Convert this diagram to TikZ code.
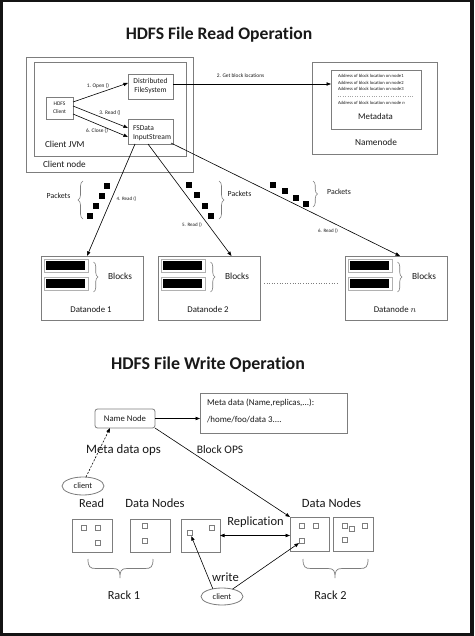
\documentclass[tikz,border=0pt]{standalone}
\usepackage{fontspec}
\setmainfont{Carlito}[Ligatures={NoCommon}]
\usetikzlibrary{arrows.meta,decorations.pathreplacing,shapes.geometric,calc}
\definecolor{boxgray}{RGB}{125,125,125}
\definecolor{txt}{RGB}{25,25,25}
\definecolor{frame}{RGB}{20,20,20}
\newcommand{\fsz}[1]{\fontsize{#1}{#1}\selectfont}
\begin{document}
\begin{tikzpicture}[x=1pt,y=-1pt,
  box/.style={draw=boxgray, line width=0.8pt, inner sep=0pt, outer sep=0pt, text=txt},
  lbl/.style={inner sep=0pt, outer sep=0pt, text=txt},
  conn/.style={draw=black, line width=0.6pt},
  arr/.style={conn, -{Triangle[length=4.5pt,width=3.4pt]}},
  pkt/.style={fill=black, minimum size=6pt, inner sep=0pt},
  sq/.style={draw=boxgray, line width=0.6pt, minimum size=5.5pt, inner sep=0pt},
  brc/.style={decorate, decoration={brace, amplitude=#1}, draw=boxgray, line width=0.6pt},
  ]
\useasboundingbox (0,0) rectangle (474,636);
\fill[frame] (0,0) rectangle (474,636);
\fill[white] (3,2) rectangle (470,633);

% ---------------- READ ----------------
\node[lbl, font=\bfseries\fsz{17.6}] (t1) at (219,35) {HDFS File Read Operation};

\node[box, minimum width=167pt, minimum height=115pt] (cnode) at (109.5,114.5) {};
\node[box, minimum width=152pt, minimum height=94pt] (jvm) at (110,109) {};
\node[lbl, anchor=west, font=\fsz{9.2}] (jvmlbl) at (45,144) {Client JVM};
\node[lbl, anchor=west, font=\fsz{9.2}] (cnlbl) at (43,164) {Client node};
\node[box, minimum width=27pt, minimum height=22pt, align=center, font=\fontsize{5.5}{8}\selectfont] (hc) at (59.5,108) {HDFS\\Client};
\node[box, minimum width=45pt, minimum height=25pt, align=center, font=\fontsize{7.5}{9}\selectfont] (dfs) at (150.5,86.5) {Distributed\\FileSystem};
\node[box, minimum width=45pt, minimum height=25pt] (fsd) at (150.5,131.5) {};
\node[lbl, anchor=west, align=left, font=\fontsize{7.5}{9}\selectfont] (fsdlbl) at (133,133) {FSData\\InputStream};

\node[box, minimum width=125pt, minimum height=92pt] (nnode) at (374.5,108) {};
\node[box, minimum width=90pt, minimum height=59pt] (meta) at (376,99.5) {};
\node[lbl, anchor=west, font=\fsz{4.6}] (a1) at (338,76) {Address of block location on node1};
\node[lbl, anchor=west, font=\fsz{4.6}] (a2) at (338,82.5) {Address of block location on node2};
\node[lbl, anchor=west, font=\fsz{4.6}] (a3) at (338,89) {Address of block location on node3};
\draw[boxgray!70, line width=0.4pt, dotted] (338,96.5) -- (414,96.5);
\node[lbl, anchor=west, font=\fsz{4.6}] (an) at (338,102.5) {Address of block location on node \textit{n}};
\node[lbl, font=\fsz{8.8}] (metalbl) at (375.5,116) {Metadata};
\node[lbl, font=\fsz{9.3}] (nnlbl) at (376,142) {Namenode};

% client arrows
\draw[arr] ([yshift=6pt]hc.east) -- ([yshift=3.5pt]dfs.west);
\draw[arr] ([yshift=2pt]hc.east) -- ([yshift=3.5pt]fsd.west);
\draw[arr] ([yshift=-6pt]hc.east) -- ([yshift=-5.5pt]fsd.west);
\node[lbl, font=\fsz{5.4}] (l1) at (98,85.5) {1. Open ()};
\node[lbl, font=\fsz{5.4}] (l3) at (110,113) {3. Read ()};
\node[lbl, font=\fsz{5.4}] (l6) at (97,131) {6. Close ()};
\draw[arr] ([yshift=2.5pt]dfs.east) -- ([yshift=2.5pt]dfs.east -| meta.west);
\node[lbl, font=\fsz{5.4}] (l2) at (240.5,76) {2. Get block locations};

% datanodes
\foreach \nm/\lx/\lab in {dn1/41/Datanode 1, dn2/158/Datanode 2, dnn/345/Datanode $n$}{
  \node[box, minimum width=102pt, minimum height=64pt] (\nm) at (\lx+51,288) {};
  \foreach \by in {259.5,277.5}{
    \draw[boxgray!60, line width=0.6pt] (\lx+3.5,\by) rectangle (\lx+47,\by+12.5);
    \fill[black] (\lx+5,\by+1.5) rectangle (\lx+44,\by+10.5);
  }
  \draw[brc=4.5] (\lx+52.5,262) -- (\lx+52.5,292);
  \node[lbl, font=\fsz{9.3}] (\nm blk) at (\lx+79,276) {Blocks};
  \node[lbl, font=\fsz{8.8}] (\nm lbl) at (\lx+50,309) {\lab};
}
\draw[boxgray, line width=0.6pt, dotted] ([xshift=4pt,yshift=5pt]dn2.east) -- ([xshift=-8pt,yshift=5pt]dnn.west);

% read arrows
\draw[arr] ([xshift=-15.5pt]fsd.south) -- ([xshift=-5pt]dn1.north);
\draw[arr] ([xshift=-2.5pt]fsd.south) -- ([xshift=22.5pt]dn2.north);
\draw[arr] ([xshift=-2pt,yshift=1pt]fsd.south east) -- ([xshift=4pt]dnn.north);
\node[lbl, font=\fsz{5}] (r4) at (126.5,199) {4. Read ()};
\node[lbl, font=\fsz{5}] (r5) at (192,225) {5. Read ()};
\node[lbl, font=\fsz{5}] (r6) at (328,231) {6. Read ()};

% packets
\node[pkt] (p11) at (107,186) {};
\node[pkt] (p12) at (102,196) {};
\node[pkt] (p13) at (96,206) {};
\node[pkt] (p14) at (90,216) {};
\draw[brc=5] (83,219) -- (83,181);
\node[lbl, font=\fsz{7.8}] (pk1) at (58.5,196) {Packets};

\node[pkt] (p21) at (189,185) {};
\node[pkt] (p22) at (197,195.5) {};
\node[pkt] (p23) at (205,206) {};
\node[pkt] (p24) at (211,216) {};
\draw[brc=5] (219,181) -- (219,219);
\node[lbl, font=\fsz{7.8}] (pk2) at (239.5,194) {Packets};

\node[pkt] (p31) at (273,185) {};
\node[pkt] (p32) at (285,191.5) {};
\node[pkt] (p33) at (296,198) {};
\node[pkt] (p34) at (306,204) {};
\draw[brc=4.5] (313,181) -- (313,207);
\node[lbl, font=\fsz{7.8}] (pk3) at (339,192) {Packets};

% ---------------- WRITE ----------------
\node[lbl, font=\bfseries\fsz{17.9}] (t2) at (208,365) {HDFS File Write Operation};

\node[box, rounded corners=2.5pt, minimum width=60pt, minimum height=19pt, font=\fsz{8.7}] (nn) at (125,418.5) {Name Node};
\node[box, minimum width=147pt, minimum height=40pt] (md) at (273.5,413) {};
\node[lbl, anchor=west, font=\fsz{8.9}] (md1) at (207,403) {Meta data (Name,replicas,...):};
\node[lbl, anchor=west, font=\fsz{8.9}] (md2) at (207,420) {/home/foo/data 3....};
\draw[arr] (nn.east) -- (nn.east -| md.west);

\node[lbl, font=\fsz{12.8}] (mdo) at (123.5,450) {Meta data ops};
\node[lbl, font=\fsz{11.5}] (bops) at (220,450) {Block OPS};

\node[box, ellipse, minimum width=42pt, minimum height=18pt, font=\fsz{8.3}] (c1) at (83,486) {client};
\draw[arr, dashed, dash pattern=on 2pt off 1.5pt] ([xshift=3pt]c1.north) -- ([xshift=-15pt]nn.south);

\node[lbl, font=\fsz{12.3}] (rd) at (91.5,503) {Read};
\node[lbl, font=\fsz{12.6}] (dnl1) at (155,503) {Data Nodes};
\node[lbl, font=\fsz{12.6}] (dnl2) at (331.5,503) {Data Nodes};

\node[box, minimum width=40pt, minimum height=33pt] (r1a) at (92,535.5) {};
\node[box, minimum width=40pt, minimum height=33pt] (r1b) at (150,535.5) {};
\node[box, minimum width=39pt, minimum height=33pt] (mid) at (200.5,535.5) {};
\node[box, minimum width=39pt, minimum height=34pt] (r2a) at (309.5,534) {};
\node[box, minimum width=40pt, minimum height=34pt] (r2b) at (353,534) {};

\node[sq] (s1) at (84,528) {};
\node[sq] (s2) at (98,528) {};
\node[sq] (s3) at (98,543) {};
\node[sq] (s4) at (145,526) {};
\node[sq] (s5) at (145,541) {};
\node[sq] (m1) at (190,533) {};
\node[sq] (m2) at (212,528) {};
\node[sq] (s6) at (302,526) {};
\node[sq] (s7) at (316,526) {};
\node[sq] (s8) at (302,541) {};
\node[sq] (s9) at (345,526) {};
\node[sq, fill=white] (s10) at (352,529) {};
\node[sq] (s11) at (365,526) {};
\node[sq] (s12) at (345,540) {};

\draw[arr] (nn.south east) -- (r2a.north west);
\draw[conn, {Triangle[length=4.5pt,width=3.4pt]}-{Triangle[length=4.5pt,width=3.4pt]}] (mid.east) -- (mid.east -| r2a.west);
\node[lbl, font=\fsz{12.5}] (repl) at (255.5,522) {Replication};

\node[box, ellipse, minimum width=42pt, minimum height=17pt, font=\fsz{8.3}] (c2) at (222,596.5) {client};
\draw[arr] (c2.140) -- (m1);
\draw[arr] (c2.35) -- (s8);
\node[lbl, font=\fsz{12.6}] (wr) at (225.5,577) {write};

\draw[boxgray, line width=0.7pt] (88,559) .. controls (88,567) and (90,568.5) .. (96,568.5) -- (113,568.5) .. controls (119,568.5) and (120,571) .. (120,578) .. controls (120,571) and (121,568.5) .. (127,568.5) -- (145,568.5) .. controls (151,568.5) and (153,567) .. (153,559);
\draw[boxgray, line width=0.7pt] (303,559) .. controls (303,567) and (305,568.5) .. (311,568.5) -- (328,568.5) .. controls (334,568.5) and (335,571) .. (335,578) .. controls (335,571) and (336,568.5) .. (342,568.5) -- (360,568.5) .. controls (366,568.5) and (368,567) .. (368,559);
\node[lbl, font=\fsz{12.3}] (rk1) at (124,595) {Rack 1};
\node[lbl, font=\fsz{12.3}] (rk2) at (330.5,595) {Rack 2};
\end{tikzpicture}
\end{document}
